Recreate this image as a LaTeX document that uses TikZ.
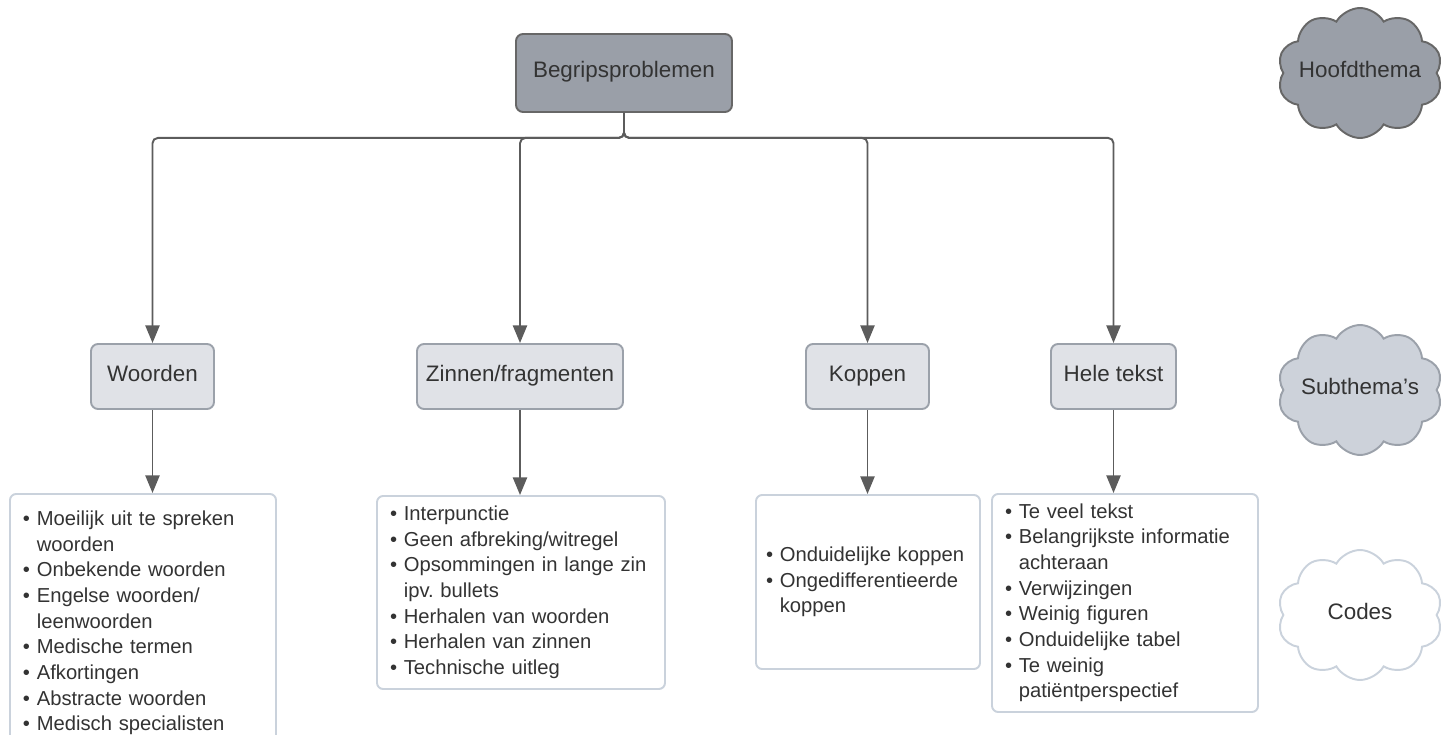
\documentclass[tikz,border=0pt]{standalone}
\usepackage{fontspec}
\setmainfont{Liberation Sans}
\usetikzlibrary{arrows.meta,shapes.symbols}
\definecolor{themegray}{HTML}{9A9FA8}
\definecolor{themeedge}{HTML}{676767}
\definecolor{subfill}{HTML}{E0E2E7}
\definecolor{subedge}{HTML}{9BA1AA}
\definecolor{subcloud}{HTML}{CDD2DA}
\definecolor{codeedge}{HTML}{CAD2DC}
\definecolor{linegray}{HTML}{5C5C5C}
\definecolor{textgray}{HTML}{333333}
% bullet lists as two-column tables
\newenvironment{codelist}{\begin{tabular}{@{}p{0.35em}@{\ }l@{}}}{\end{tabular}}
\newcommand{\itm}{\textbullet&}
\newcommand{\cnt}{&}

\begin{document}
\begin{tikzpicture}[
		text=textgray,
		head/.style={font=\fontsize{12.75}{15}\selectfont, align=center,
			text height=0.73em, text depth=0.21em},
		topbox/.style={head, rounded corners=4pt, line width=1.1pt, draw=themeedge, fill=themegray,
			minimum height=1.56cm},
		subbox/.style={head, rounded corners=4pt, line width=1.1pt, draw=subedge, fill=subfill,
			minimum height=1.3cm},
		codebox/.style={font=\fontsize{11.5}{14.6}\selectfont, align=left, rounded corners=3.5pt,
			line width=1.1pt, draw=codeedge, fill=white, inner xsep=0.26cm},
		legend/.style={cloud, cloud puffs=10, cloud puff arc=120, cloud ignores aspect,
			minimum width=3.3cm, minimum height=2.6cm, inner sep=0pt, line width=1.1pt},
		conn/.style={draw=linegray, line width=1.1pt, -{Triangle[length=10pt,width=8pt]}},
	]

	% frame of the picture
	\path[use as bounding box, clip] (0,0) rectangle (28.98,-14.7);

	% column x coordinates
	\def\xwoorden{3.05}
	\def\xzinnen{10.40}
	\def\xkoppen{17.35}
	\def\xhele{22.27}
	\def\xlegend{27.2}

	% main theme
	\node[topbox, minimum width=4.32cm] (begrip) at (12.48, -1.46) {Begripsproblemen};

	% sub themes
	\node[subbox, minimum width=2.46cm] (woorden) at (\xwoorden, -7.53) {Woorden};
	\node[subbox, minimum width=4.12cm] (zinnen) at (\xzinnen, -7.53) {Zinnen/fragmenten};
	\node[subbox, minimum width=2.46cm] (koppen) at (\xkoppen, -7.53) {Koppen};
	\node[subbox, minimum width=2.50cm] (hele) at (\xhele, -7.53) {Hele tekst};

	% codes
	\node[codebox, text width=4.80cm, minimum height=5.16cm] (wcodes) at (2.86, -12.46)
	{\begin{codelist}
		\itm Moeilijk uit te spreken\\ \cnt woorden\\ \itm Onbekende woorden\\
		\itm Engelse woorden/\\ \cnt leenwoorden\\ \itm Medische termen\\
		\itm Afkortingen\\ \itm Abstracte woorden\\ \itm Medisch specialisten
	\end{codelist}};
	\node[codebox, text width=5.24cm, minimum height=3.86cm] (zcodes) at (10.42, -11.85)
	{\begin{codelist}
		\itm Interpunctie\\ \itm Geen afbreking/witregel\\
		\itm Opsommingen in lange zin\\ \cnt ipv.\ bullets\\
		\itm Herhalen van woorden\\ \itm Herhalen van zinnen\\ \itm Technische uitleg
	\end{codelist}};
	\node[codebox, inner xsep=0.2cm, text width=4.08cm, minimum height=3.48cm] (kcodes) at (17.36, -11.64)
	{\begin{codelist}
		\itm Onduidelijke koppen\\ \itm Ongedifferentieerde\\ \cnt koppen
	\end{codelist}};
	\node[codebox, text width=4.80cm, minimum height=4.36cm] (hcodes) at (22.50, -12.06)
	{\begin{codelist}
		\itm Te veel tekst\\ \itm Belangrijkste informatie\\ \cnt achteraan\\
		\itm Verwijzingen\\ \itm Weinig figuren\\ \itm Onduidelijke tabel\\
		\itm Te weinig\\ \cnt patiëntperspectief
	\end{codelist}};

	% legend clouds
	\node[legend, draw=themeedge, fill=themegray, label={[head]center:Hoofdthema}]
		(hoofd) at (\xlegend, -1.46) {};
	\node[legend, draw=subedge, fill=subcloud, label={[head]center:Subthema's}]
		(subthemas) at (\xlegend, -7.8) {};
	\node[legend, draw=codeedge, fill=white, label={[head]center:Codes}]
		(codes) at (\xlegend, -12.3) {};

	% main theme -> sub themes
	\foreach \sub in {woorden,zinnen,koppen,hele}
		\draw[conn, rounded corners=3pt] (begrip.south) -- ++(0,-0.5) -| (\sub.north);

	% sub themes -> codes
	\draw[conn] (woorden.south) -- (woorden.south |- wcodes.north);
	\draw[conn] (zinnen.south) -- (zinnen.south |- zcodes.north);
	\draw[conn] (koppen.south) -- (koppen.south |- kcodes.north);
	\draw[conn] (hele.south) -- (hele.south |- hcodes.north);

\end{tikzpicture}
\end{document}
